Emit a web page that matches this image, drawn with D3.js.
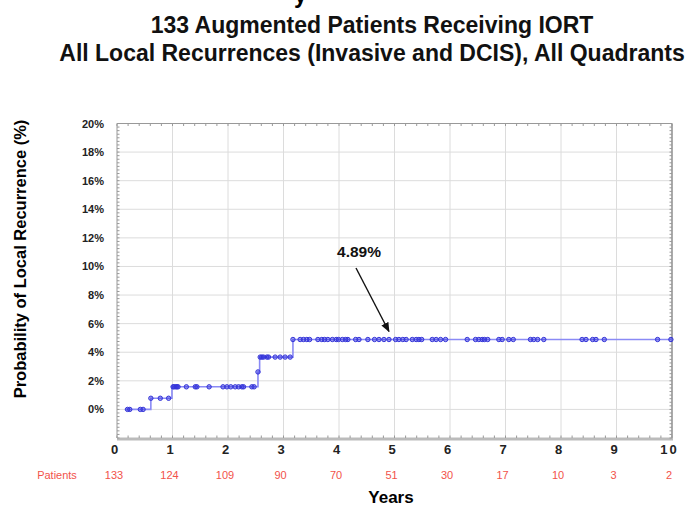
<!DOCTYPE html>
<html>
<head>
<meta charset="utf-8">
<script src="https://cdn.jsdelivr.net/npm/d3@7/dist/d3.min.js"></script>
<style>
  body { margin: 0; background: #fff; }
  svg { display: block; font-family: "Liberation Sans", Arial, Helvetica, sans-serif; }
</style>
</head>
<body>
<svg width="689" height="510"></svg>
<script>
// ---- data ----
const titleLines = ['133 Augmented Patients Receiving IORT',
                    'All Local Recurrences (Invasive and DCIS), All Quadrants']
const yearTicks = [0, 1, 2, 3, 4, 5, 6, 7, 8, 9, 10]
const patientsAtRisk = [133, 124, 109, 90, 70, 51, 30, 17, 10, 3, 2]
const pctTicks = [0, 2, 4, 6, 8, 10, 12, 14, 16, 18, 20]

// step curve: [years, cumulative recurrence %]
const stepPoints = [
  [0.14, 0], [0.61, 0.78], [0.99, 1.58], [2.54, 2.62],
  [2.57, 3.66], [3.17, 4.89], [10, 4.89]
]
// censored times at each level
const censorLevels = [0, 0.78, 1.58, 2.62, 3.66, 4.89]
const censorTimes = [
  [0.19, 0.23, 0.42, 0.47],
  [0.61, 0.78, 0.93],
  [1.01, 1.03, 1.06, 1.08, 1.10, 1.25, 1.41, 1.44, 1.66, 1.91, 1.98, 2.05,
   2.13, 2.19, 2.25, 2.28, 2.43, 2.47],
  [2.54],
  [2.58, 2.61, 2.64, 2.70, 2.73, 2.85, 2.94, 3.03, 3.12],
  [3.17, 3.30, 3.36, 3.42, 3.47, 3.62, 3.69, 3.74, 3.80, 3.88, 3.95, 3.99,
   4.06, 4.12, 4.16, 4.30, 4.36, 4.52, 4.64, 4.72, 4.81, 4.90, 5.02, 5.08,
   5.15, 5.21, 5.32, 5.39, 5.44, 5.49, 5.68, 5.75, 5.83, 5.92, 6.31, 6.46,
   6.52, 6.58, 6.62, 6.68, 6.88, 6.94, 7.06, 7.14, 7.45, 7.51, 7.58, 7.69,
   8.38, 8.45, 8.57, 8.63, 8.78, 9.74, 9.98]
]
const finalLabel = '4.89%'
const finalValue = 4.89

// ---- layout ----
const svg = d3.select('svg')
const plotL = 117, plotR = 672, plotT = 123.5, plotB = 438

const x = d3.scaleLinear().domain([0, 10]).range([plotL, plotR])
const y = d3.scaleLinear().domain([-2, 20]).range([plotB, plotT])

// titles (a clipped line above the title shows only a descender)
svg.append('text')
  .attr('x', 294).attr('y', 3)
  .style('font-size', '23px').style('font-weight', 'bold')
  .text('y')

svg.selectAll('.title')
  .data(titleLines)
  .enter()
  .append('text')
    .attr('class', 'title')
    .attr('x', 372)
    .attr('y', (d, i) => 33 + i * 28)
    .attr('text-anchor', 'middle')
    .style('font-size', '23px')
    .style('font-weight', 'bold')
    .attr('fill', '#111')
    .text(d => d)

// grid
const grid = svg.append('g')
grid.selectAll('.hg')
  .data(pctTicks.filter(d => d < 20))
  .enter().append('line')
    .attr('x1', plotL).attr('x2', plotR)
    .attr('y1', d => y(d)).attr('y2', d => y(d))
    .attr('stroke', '#dcdcdc')
grid.selectAll('.vg')
  .data(yearTicks.filter(d => d > 0 && d < 10))
  .enter().append('line')
    .attr('x1', d => x(d)).attr('x2', d => x(d))
    .attr('y1', plotT).attr('y2', plotB)
    .attr('stroke', '#dcdcdc')

// frame with small inner ticks
const frame = svg.append('g')
frame.append('line').attr('x1', plotL).attr('x2', plotR).attr('y1', plotT).attr('y2', plotT)
  .attr('stroke', '#999')
frame.append('line').attr('x1', plotL).attr('x2', plotL).attr('y1', plotT).attr('y2', plotB)
  .attr('stroke', '#999')
frame.append('line').attr('x1', plotR).attr('x2', plotR).attr('y1', plotT).attr('y2', plotB)
  .attr('stroke', '#aaa').attr('stroke-width', 2)
frame.append('line').attr('x1', plotL).attr('x2', plotR + 1).attr('y1', plotB + 1).attr('y2', plotB + 1)
  .attr('stroke', '#bbb').attr('stroke-width', 3)

const xMinor = d3.range(0, 10.01, 0.2)
const yMinor = d3.range(-2, 20.01, 0.25)
frame.selectAll('.tt').data(xMinor).enter().append('line')
  .attr('x1', d => x(d)).attr('x2', d => x(d))
  .attr('y1', plotT).attr('y2', plotT + 2.5).attr('stroke', '#999')
frame.selectAll('.bt').data(xMinor).enter().append('line')
  .attr('x1', d => x(d)).attr('x2', d => x(d))
  .attr('y1', plotB - 2.5).attr('y2', plotB).attr('stroke', '#999')
frame.selectAll('.lt').data(yMinor).enter().append('line')
  .attr('x1', plotL).attr('x2', plotL + 2.5)
  .attr('y1', d => y(d)).attr('y2', d => y(d)).attr('stroke', '#999')
frame.selectAll('.rt').data(yMinor).enter().append('line')
  .attr('x1', plotR - 2.5).attr('x2', plotR)
  .attr('y1', d => y(d)).attr('y2', d => y(d)).attr('stroke', '#999')

// axes labels
const yAxis = d3.axisLeft(y)
  .tickValues(pctTicks)
  .tickSize(0)
  .tickPadding(13)
  .tickFormat(d => d + '%')
const yG = svg.append('g')
  .attr('transform', `translate(${plotL}, 0)`)
  .call(yAxis)
yG.select('.domain').remove()
yG.selectAll('text')
  .style('font-size', '11px')
  .style('font-weight', 'bold')
  .style('font-family', '"Liberation Sans", Arial, sans-serif')
  .attr('fill', '#222')

const xAxis = d3.axisBottom(x)
  .tickValues(yearTicks)
  .tickSize(0)
  .tickPadding(0)
  .tickFormat(d3.format('d'))
const xG = svg.append('g')
  .attr('transform', `translate(-3, 445)`)
  .call(xAxis)
xG.select('.domain').remove()
xG.selectAll('text')
  .style('font-size', '13px')
  .style('font-weight', 'bold')
  .style('letter-spacing', d => d >= 10 ? '2px' : '0px')
  .style('font-family', '"Liberation Sans", Arial, sans-serif')
  .attr('fill', '#222')

// patients at risk row
svg.append('text')
  .attr('x', 57).attr('y', 479)
  .attr('text-anchor', 'middle')
  .style('font-size', '11px')
  .attr('fill', '#f2524a')
  .text('Patients')
svg.selectAll('.risk')
  .data(patientsAtRisk)
  .enter().append('text')
    .attr('class', 'risk')
    .attr('x', (d, i) => x(yearTicks[i]) - 3)
    .attr('y', 479)
    .attr('text-anchor', 'middle')
    .style('font-size', '11px')
    .attr('fill', '#f2524a')
    .text(d => d)

svg.append('text')
  .attr('x', 391).attr('y', 503)
  .attr('text-anchor', 'middle')
  .style('font-size', '17px').style('font-weight', 'bold')
  .text('Years')

svg.append('text')
  .attr('transform', 'rotate(-90)')
  .attr('x', -259).attr('y', 26)
  .attr('text-anchor', 'middle')
  .style('font-size', '16.5px').style('font-weight', 'bold')
  .text('Probability of Local Recurrence (%)')

// curve
const line = d3.line()
  .x(d => x(d[0]))
  .y(d => y(d[1]))
  .curve(d3.curveStepAfter)
svg.append('path')
  .datum(stepPoints)
  .attr('d', line)
  .attr('fill', 'none')
  .attr('stroke', '#8a8af5')
  .attr('stroke-width', 1.6)

const marks = []
censorTimes.forEach((times, i) => {
  times.forEach(t => marks.push({ t: t, v: censorLevels[i] }))
})
svg.selectAll('.cens')
  .data(marks)
  .enter().append('circle')
    .attr('class', 'cens')
    .attr('cx', d => x(d.t))
    .attr('cy', d => y(d.v))
    .attr('r', 2.2)
    .attr('fill', 'rgba(50,50,225,0.45)')
    .attr('stroke', '#3535d8')
    .attr('stroke-width', 1)

// annotation
svg.append('defs').append('marker')
  .attr('id', 'arrow')
  .attr('viewBox', '0 0 10 10')
  .attr('refX', 9).attr('refY', 5)
  .attr('markerWidth', 7).attr('markerHeight', 7)
  .attr('orient', 'auto')
  .append('path')
    .attr('d', 'M0,1 L10,5 L0,9 Z')
    .attr('fill', '#111')

svg.append('text')
  .attr('x', 359).attr('y', 257)
  .attr('text-anchor', 'middle')
  .style('font-size', '15.5px').style('font-weight', 'bold')
  .attr('fill', '#111')
  .text(finalLabel)

svg.append('line')
  .attr('x1', 356).attr('y1', 268)
  .attr('x2', x(4.9)).attr('y2', y(finalValue) - 8)
  .attr('stroke', '#111')
  .attr('stroke-width', 1.4)
  .attr('marker-end', 'url(#arrow)')
</script>
</body>
</html>
